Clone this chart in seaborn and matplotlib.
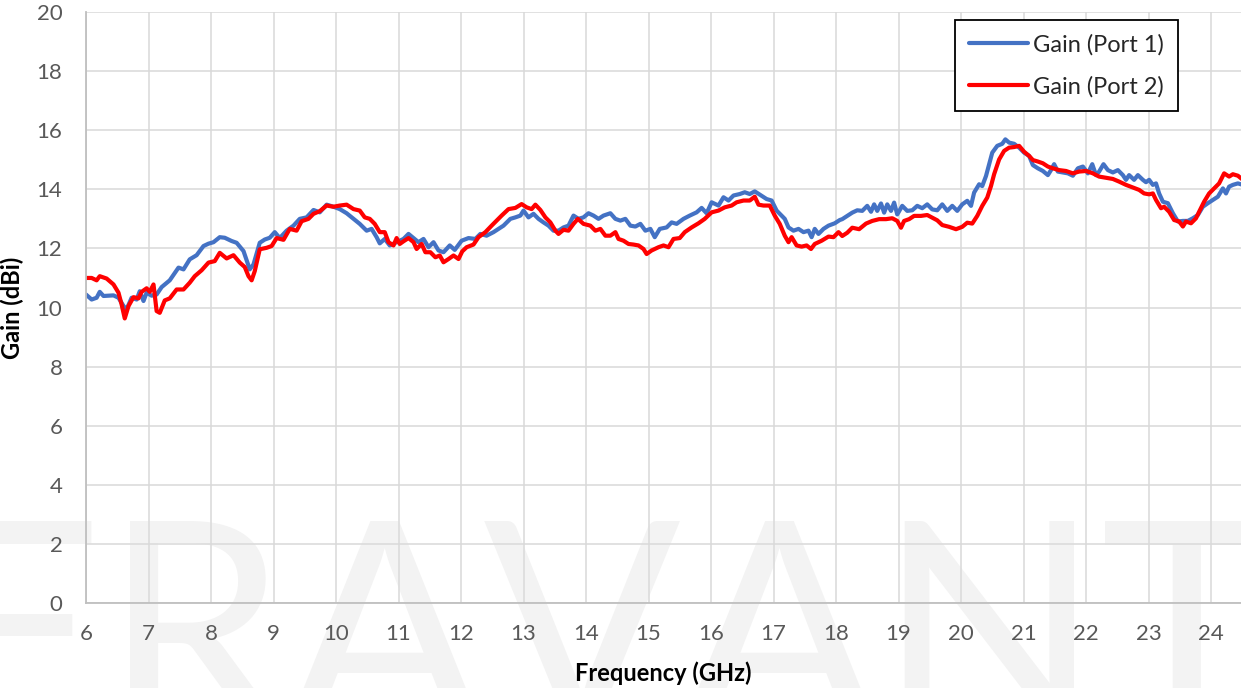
import pandas as pd
import matplotlib.pyplot as plt
from matplotlib.ticker import MultipleLocator
import seaborn as sns

# Port 1 gain (blue)
freq_p1 = [6.0, 6.09, 6.17, 6.22, 6.28, 6.44, 6.52, 6.6, 6.65, 6.73, 6.81, 6.86, 6.92, 6.97,
           7.05, 7.13, 7.21, 7.34, 7.48, 7.56, 7.66, 7.77, 7.88, 7.96, 8.04, 8.14, 8.22, 8.33,
           8.41, 8.52, 8.62, 8.68, 8.78, 8.86, 8.94,
           9.02, 9.1, 9.21, 9.32, 9.42, 9.53, 9.64, 9.74, 9.85, 9.96, 10.06, 10.17, 10.28,
           10.38, 10.49, 10.57, 10.65, 10.7, 10.78, 10.86, 10.97, 11.08, 11.16, 11.24, 11.32,
           11.4, 11.48, 11.56, 11.64, 11.72, 11.82, 11.9,
           12.01, 12.12, 12.23, 12.31, 12.41, 12.52, 12.6, 12.68, 12.79, 12.87, 12.95, 13.0,
           13.08, 13.16, 13.24, 13.32, 13.4, 13.48, 13.56, 13.64, 13.72, 13.8, 13.88, 13.96,
           14.04, 14.12, 14.2, 14.28, 14.39, 14.47, 14.55, 14.63, 14.71, 14.79, 14.87, 14.95,
           15.03, 15.1, 15.18, 15.29, 15.37, 15.45, 15.56, 15.66, 15.77, 15.85, 15.93, 16.01,
           16.12, 16.2, 16.28, 16.36, 16.46, 16.54, 16.62, 16.7, 16.78, 16.89, 16.97, 17.05,
           17.13, 17.18, 17.24, 17.32, 17.4, 17.48, 17.56, 17.61, 17.66, 17.72, 17.8, 17.88,
           17.98, 18.06,
           18.1, 18.18, 18.26, 18.34, 18.42, 18.5, 18.56, 18.61, 18.66, 18.72, 18.77, 18.82,
           18.88, 18.93, 18.98, 19.06, 19.14, 19.22, 19.3, 19.38, 19.46, 19.54, 19.62, 19.7,
           19.78, 19.86, 19.94, 20.02, 20.1, 20.16, 20.21, 20.29, 20.34, 20.4, 20.45, 20.5,
           20.58, 20.66, 20.71, 20.77, 20.85, 20.93, 21.01, 21.09,
           21.15, 21.23, 21.31, 21.39, 21.44, 21.49, 21.55, 21.63, 21.71, 21.79, 21.87, 21.95,
           22.03, 22.1, 22.16, 22.21, 22.28, 22.35, 22.43, 22.51, 22.59, 22.64, 22.69, 22.77,
           22.83, 22.91, 22.96, 23.01, 23.07, 23.12, 23.17, 23.23, 23.31, 23.39, 23.47, 23.55,
           23.63, 23.71, 23.79, 23.87, 23.95, 24.03, 24.11, 24.19, 24.24, 24.29, 24.35, 24.43,
           24.51]
gain_p1 = [10.44, 10.27, 10.33, 10.53, 10.39, 10.41, 10.33, 10.05, 9.94, 10.33, 10.27, 10.55, 10.22, 10.5,
           10.4, 10.44, 10.69, 10.92, 11.35, 11.29, 11.63, 11.77, 12.08, 12.16, 12.21, 12.38, 12.36, 12.25,
           12.19, 11.91, 11.29, 11.46, 12.19, 12.3, 12.36,
           12.55, 12.35, 12.6, 12.77, 13.0, 13.05, 13.3, 13.22, 13.48, 13.41, 13.33, 13.19, 13.0,
           12.83, 12.6, 12.66, 12.38, 12.17, 12.32, 12.1, 12.21, 12.32, 12.49, 12.35, 12.21,
           12.32, 12.04, 12.21, 11.93, 11.87, 12.1, 11.95,
           12.26, 12.35, 12.32, 12.49, 12.43, 12.55, 12.66, 12.77, 13.0, 13.05, 13.11, 13.28,
           13.05, 13.17, 13.0, 12.88, 12.77, 12.6, 12.6, 12.71, 12.77, 13.11, 13.0, 13.05,
           13.19, 13.11, 13.0, 13.11, 13.19, 13.0, 12.94, 13.0, 12.77, 12.74, 12.83, 12.6,
           12.66, 12.38, 12.66, 12.71, 12.88, 12.83, 13.0, 13.11, 13.22, 13.37, 13.19, 13.56,
           13.45, 13.73, 13.62, 13.79, 13.84, 13.9, 13.84, 13.93, 13.82, 13.67, 13.62, 13.28,
           13.11, 13.0, 12.71, 12.6, 12.66, 12.55, 12.6, 12.38, 12.66, 12.49, 12.66, 12.77,
           12.85, 12.96,
           12.99, 13.1, 13.21, 13.29, 13.27, 13.44, 13.24, 13.49, 13.27, 13.52, 13.21, 13.49,
           13.27, 13.55, 13.15, 13.44, 13.27, 13.29, 13.44, 13.36, 13.49, 13.32, 13.29, 13.49,
           13.27, 13.44, 13.27, 13.49, 13.61, 13.44, 13.89, 14.17, 14.11, 14.45, 14.85, 15.24,
           15.47, 15.54, 15.69, 15.58, 15.54, 15.41, 15.24, 15.13,
           14.82, 14.71, 14.62, 14.48, 14.65, 14.85, 14.6, 14.57, 14.54, 14.46, 14.71, 14.77,
           14.54, 14.85, 14.48, 14.6, 14.85, 14.65, 14.57, 14.65, 14.48, 14.32, 14.48, 14.32,
           14.48, 14.32, 14.24, 14.32, 14.15, 14.2, 13.86, 13.58, 13.53, 13.19, 12.91, 12.93,
           12.93, 13.02, 13.13, 13.41, 13.53, 13.64, 13.75, 14.03, 13.86, 14.09, 14.15, 14.2,
           14.15]

# Port 2 gain (red)
freq_p2 = [6.0, 6.09, 6.17, 6.22, 6.33, 6.44, 6.52, 6.57, 6.62, 6.68, 6.76, 6.84, 6.89, 6.97,
           7.02, 7.08, 7.13, 7.18, 7.26, 7.34, 7.45, 7.56, 7.66, 7.74, 7.85, 7.96, 8.06, 8.14,
           8.25, 8.36, 8.46, 8.54, 8.6, 8.65, 8.7, 8.78, 8.89, 8.97,
           9.05, 9.16, 9.26, 9.37, 9.45, 9.56, 9.64, 9.74, 9.85, 9.96, 10.06, 10.17, 10.28,
           10.38, 10.46, 10.54, 10.62, 10.7, 10.78, 10.84, 10.92, 10.97, 11.02, 11.08, 11.16,
           11.24, 11.29, 11.37, 11.43, 11.51, 11.59, 11.66, 11.72, 11.8, 11.88, 11.96,
           12.02, 12.09, 12.2, 12.28, 12.39, 12.49, 12.57, 12.65, 12.76, 12.87, 12.97, 13.05,
           13.13, 13.19, 13.27, 13.35, 13.43, 13.51, 13.56, 13.64, 13.72, 13.8, 13.87, 13.96,
           14.07, 14.15, 14.23, 14.31, 14.39, 14.47, 14.52, 14.6, 14.68, 14.76, 14.84, 14.92,
           14.97, 15.05, 15.16, 15.24, 15.32, 15.4, 15.5, 15.58, 15.69, 15.8, 15.9, 16.01,
           16.12, 16.22, 16.33, 16.41, 16.52, 16.62, 16.7, 16.76, 16.84, 16.94, 17.02, 17.1,
           17.18, 17.24, 17.29, 17.37, 17.45, 17.53, 17.6, 17.66, 17.77, 17.88, 17.96, 18.04,
           18.1, 18.18, 18.26, 18.37, 18.48, 18.58, 18.69, 18.8, 18.9, 18.98, 19.04, 19.09,
           19.17, 19.25, 19.36, 19.46, 19.54, 19.62, 19.7, 19.81, 19.92, 20.02, 20.1, 20.18,
           20.26, 20.34, 20.42, 20.48, 20.53, 20.61, 20.69, 20.77, 20.85, 20.93, 21.01, 21.09,
           21.15, 21.23, 21.31, 21.39, 21.47, 21.57, 21.68, 21.79, 21.89, 22.0, 22.11, 22.21,
           22.32, 22.43, 22.53, 22.64, 22.75, 22.85, 22.93, 23.01, 23.07, 23.12, 23.2, 23.25,
           23.33, 23.41, 23.49, 23.55, 23.6, 23.68, 23.76, 23.81, 23.89, 23.97, 24.05, 24.13,
           24.21, 24.29, 24.35, 24.43, 24.51]
gain_p2 = [11.0, 11.0, 10.92, 11.06, 10.98, 10.78, 10.5, 10.1, 9.63, 10.05, 10.35, 10.31, 10.53, 10.65,
           10.53, 10.78, 9.88, 9.82, 10.24, 10.31, 10.61, 10.61, 10.84, 11.06, 11.26, 11.52, 11.57, 11.85,
           11.66, 11.77, 11.52, 11.37, 11.06, 10.92, 11.23, 11.97, 12.02, 12.08,
           12.35, 12.29, 12.66, 12.6, 12.92, 13.0, 13.17, 13.26, 13.45, 13.41, 13.45, 13.48, 13.33,
           13.28, 13.05, 13.0, 12.83, 12.55, 12.55, 12.21, 12.1, 12.35, 12.15, 12.24, 12.35,
           12.21, 11.98, 12.15, 11.87, 11.87, 11.7, 11.76, 11.53, 11.64, 11.76, 11.64,
           11.9, 12.04, 12.13, 12.38, 12.55, 12.77, 12.94, 13.11, 13.33, 13.37, 13.5, 13.39,
           13.33, 13.48, 13.3, 13.05, 12.88, 12.6, 12.49, 12.63, 12.6, 12.83, 13.0, 12.83,
           12.77, 12.6, 12.66, 12.43, 12.43, 12.55, 12.32, 12.26, 12.15, 12.13, 12.1, 11.98,
           11.81, 11.93, 12.04, 12.1, 12.04, 12.32, 12.35, 12.55, 12.71, 12.85, 13.0, 13.22,
           13.28, 13.39, 13.45, 13.56, 13.62, 13.62, 13.75, 13.48, 13.45, 13.45, 13.11, 12.83,
           12.43, 12.21, 12.38, 12.1, 12.06, 12.1, 11.98, 12.15, 12.26, 12.4, 12.38, 12.55,
           12.42, 12.53, 12.7, 12.65, 12.84, 12.93, 12.99, 12.99, 13.02, 12.93, 12.7, 12.93,
           12.99, 13.1, 13.1, 13.13, 13.04, 12.95, 12.79, 12.73, 12.65, 12.73, 12.87, 12.84,
           13.1, 13.44, 13.72, 14.11, 14.51, 15.01, 15.3, 15.41, 15.43, 15.47, 15.27, 15.13,
           14.99, 14.94, 14.88, 14.77, 14.71, 14.65, 14.62, 14.54, 14.6, 14.62, 14.54, 14.43,
           14.39, 14.35, 14.26, 14.15, 14.06, 13.98, 13.86, 13.83, 13.86, 13.64, 13.36, 13.41,
           13.24, 12.96, 12.91, 12.74, 12.91, 12.85, 13.02, 13.24, 13.58, 13.86, 14.03, 14.2,
           14.54, 14.43, 14.51, 14.46, 14.32]

x_ticks = list(range(6, 25))
y_ticks = list(range(0, 21, 2))

df1 = pd.DataFrame({'Frequency': freq_p1, 'Gain': gain_p1})
df2 = pd.DataFrame({'Frequency': freq_p2, 'Gain': gain_p2})

sns.set_style("white")
plt.rcParams['font.family'] = ['Lato', 'DejaVu Sans']

fig = plt.figure(figsize=(12.41, 6.88), dpi=100)
ax = fig.add_axes([86 / 1241, 85 / 688, 1155 / 1241, 591 / 688])
ax.set_facecolor('none')
ax.set_zorder(2)

# faint watermark behind the plot
fig.text(-0.052, -0.061, 'ERAVANT', fontsize=210, color='#f3f3f3', fontweight='normal',
         ha='left', va='baseline', zorder=-10)

sns.lineplot(data=df1, x='Frequency', y='Gain', ax=ax, color='#4472C4', linewidth=3.0,
             label='Gain (Port 1)', sort=False, estimator=None)
sns.lineplot(data=df2, x='Frequency', y='Gain', ax=ax, color='#FF0000', linewidth=3.0,
             label='Gain (Port 2)', sort=False, estimator=None)

ax.set_xlim(6, 24.48)
ax.set_ylim(0, 20)
ax.set_xticks(x_ticks)
ax.set_yticks(y_ticks)
ax.xaxis.set_minor_locator(MultipleLocator(0.2))
ax.yaxis.set_minor_locator(MultipleLocator(0.4))
ax.grid(True, which='major', color='#d9d9d9', linewidth=1.1)
ax.set_axisbelow(True)

for side in ['top', 'right']:
    ax.spines[side].set_visible(False)
for side in ['left', 'bottom']:
    ax.spines[side].set_color('#bfbfbf')
    ax.spines[side].set_linewidth(1.3)

ax.tick_params(which='both', direction='in', color='#bfbfbf', width=1.0)
ax.tick_params(which='major', length=6, labelsize=16, labelcolor='#595959')
ax.tick_params(axis='x', which='major', pad=15)
ax.tick_params(axis='y', which='major', pad=17)
ax.tick_params(which='minor', length=4)

ax.set_xlabel('Frequency (GHz)', fontsize=17, fontweight='bold', color='black', labelpad=13)
ax.set_ylabel('Gain (dBi)', fontsize=17, fontweight='bold', color='black', labelpad=9)

leg = ax.legend(loc='upper left', bbox_to_anchor=(955 / 1241, 1 - 20 / 688),
                bbox_transform=fig.transFigure, borderaxespad=0, fontsize=17,
                frameon=True, fancybox=False, framealpha=1, edgecolor='black',
                handlelength=2.5, handletextpad=0.2, labelspacing=0.85,
                borderpad=0.6)
leg.get_frame().set_linewidth(1.3)
for line in leg.get_lines():
    line.set_linewidth(3)

plt.savefig('out.png', dpi=100)
